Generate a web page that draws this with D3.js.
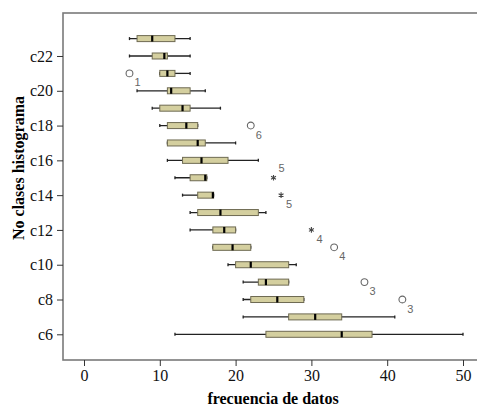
<!DOCTYPE html>
<html>
<head>
<meta charset="utf-8">
<script src="https://cdn.jsdelivr.net/npm/d3@7"></script>
<style>
  body { margin: 0; background: #fff; }
  svg { display: block; }
</style>
</head>
<body>
<svg id="chart" width="477" height="409"></svg>
<script>
// categories, top to bottom
const categories = ['c23', 'c22', 'c21', 'c20', 'c19', 'c18', 'c17', 'c16', 'c15', 'c14', 'c13', 'c12', 'c11', 'c10', 'c9', 'c8', 'c7', 'c6']
const tickLabels = ['c22', 'c20', 'c18', 'c16', 'c14', 'c12', 'c10', 'c8', 'c6']
const whiskerLo = [6, 6, 10, 7, 9, 10, 11, 11, 12, 13, 14, 14, 17, 19, 21, 21, 21, 12]
const q1 = [7, 9, 10, 11, 10, 11, 11, 13, 14, 15, 15, 17, 17, 20, 23, 22, 27, 24]
const median = [9, 10.6, 11, 11.5, 13, 13.5, 15, 15.5, 16, 17, 18, 18.5, 19.6, 22, 24, 25.5, 30.5, 34]
const q3 = [12, 11, 12, 14, 14, 15, 16, 19, 16.2, 17.1, 23, 20, 22, 27, 27, 29, 34, 38]
const whiskerHi = [14, 14, 14, 16, 18, 15, 20, 23, 16.2, 17.1, 24, 20, 22, 28, 27, 29, 41, 50]
// outliers: category, value, case label, kind
const outliers = [
  ['c21', 6, '1', 'circle'],
  ['c18', 22, '6', 'circle'],
  ['c15', 25, '5', 'star'],
  ['c14', 26, '5', 'star'],
  ['c12', 30, '4', 'star'],
  ['c11', 33, '4', 'circle'],
  ['c9', 37, '3', 'circle'],
  ['c8', 42, '3', 'circle']
]
const xTicks = [0, 10, 20, 30, 40, 50]

const svg = d3.select('#chart')
const mLeft = 63, mTop = 13, mRight = 479, mBottom = 360

const x = d3.scaleLinear().domain([0, 50]).range([84, 463])
const y = d3.scalePoint().domain(categories).range([38.6, 334.3])

// frame
svg.append('rect')
    .attr('x', mLeft).attr('y', mTop)
    .attr('width', mRight - mLeft).attr('height', mBottom - mTop)
    .attr('fill', 'none').attr('stroke', '#7a7a7a').attr('stroke-width', 1.6)

const serif = '"Liberation Serif", "DejaVu Serif", serif'

// x axis
const xAxis = svg.append('g')
    .attr('transform', 'translate(0,' + mBottom + ')')
    .call(d3.axisBottom(x).tickValues(xTicks).tickSize(6).tickPadding(4))
xAxis.select('.domain').remove()
xAxis.selectAll('line').attr('stroke', '#333')
xAxis.selectAll('text').attr('font-family', serif).attr('font-size', 16).attr('fill', '#111')

// y axis
const yAxis = svg.append('g')
    .attr('transform', 'translate(' + mLeft + ',0)')
    .call(d3.axisLeft(y).tickValues(tickLabels).tickSize(6).tickPadding(4))
yAxis.select('.domain').remove()
yAxis.selectAll('line').attr('stroke', '#333')
yAxis.selectAll('text').attr('font-family', serif).attr('font-size', 16).attr('fill', '#111')

// axis titles
svg.append('text')
    .attr('x', 273).attr('y', 404)
    .attr('text-anchor', 'middle')
    .attr('font-family', serif).attr('font-size', 16).attr('font-weight', 'bold')
    .text('frecuencia de datos')

svg.append('text')
    .attr('transform', 'translate(24,168) rotate(-90)')
    .attr('text-anchor', 'middle')
    .attr('font-family', serif).attr('font-size', 16).attr('font-weight', 'bold')
    .text('No clases histograma')

// boxes
const boxH = 6
const rows = svg.append('g').selectAll('g')
    .data(categories.map((c, i) => ({ c, lo: whiskerLo[i], q1: q1[i], med: median[i], q3: q3[i], hi: whiskerHi[i] })))
  .join('g')
    .attr('transform', d => 'translate(0,' + y(d.c) + ')')

rows.append('line')
    .attr('x1', d => x(d.lo)).attr('x2', d => x(d.hi))
    .attr('stroke', '#222').attr('stroke-width', 1.3)

rows.selectAll('.cap')
    .data(d => [d.lo, d.hi])
  .join('line')
    .attr('class', 'cap')
    .attr('x1', v => x(v)).attr('x2', v => x(v))
    .attr('y1', -1.5).attr('y2', 1.5)
    .attr('stroke', '#222').attr('stroke-width', 1.3)

rows.append('rect')
    .attr('x', d => x(d.q1)).attr('y', -boxH / 2)
    .attr('width', d => x(d.q3) - x(d.q1)).attr('height', boxH)
    .attr('fill', '#d4cf9f').attr('stroke', '#6e6a52').attr('stroke-width', 1)

rows.append('line')
    .attr('x1', d => x(d.med)).attr('x2', d => x(d.med))
    .attr('y1', -boxH / 2).attr('y2', boxH / 2)
    .attr('stroke', '#000').attr('stroke-width', 2.2)

// outliers
const outG = svg.append('g').selectAll('g')
    .data(outliers)
  .join('g')
    .attr('transform', d => 'translate(' + x(d[1]) + ',' + y(d[0]) + ')')

outG.filter(d => d[3] === 'circle').append('circle')
    .attr('r', 3.4).attr('fill', 'none').attr('stroke', '#666').attr('stroke-width', 1.1)

outG.filter(d => d[3] === 'star').append('path')
    .attr('d', d3.symbol(d3.symbolAsterisk, 22))
    .attr('fill', 'none').attr('stroke', '#444').attr('stroke-width', 1.1)

outG.append('text')
    .attr('x', 5)
    .attr('y', d => d[0] === 'c15' ? -6 : 13)
    .attr('font-family', 'Arial, "Liberation Sans", sans-serif').attr('font-size', 11).attr('fill', '#666')
    .text(d => d[2])
</script>
</body>
</html>
